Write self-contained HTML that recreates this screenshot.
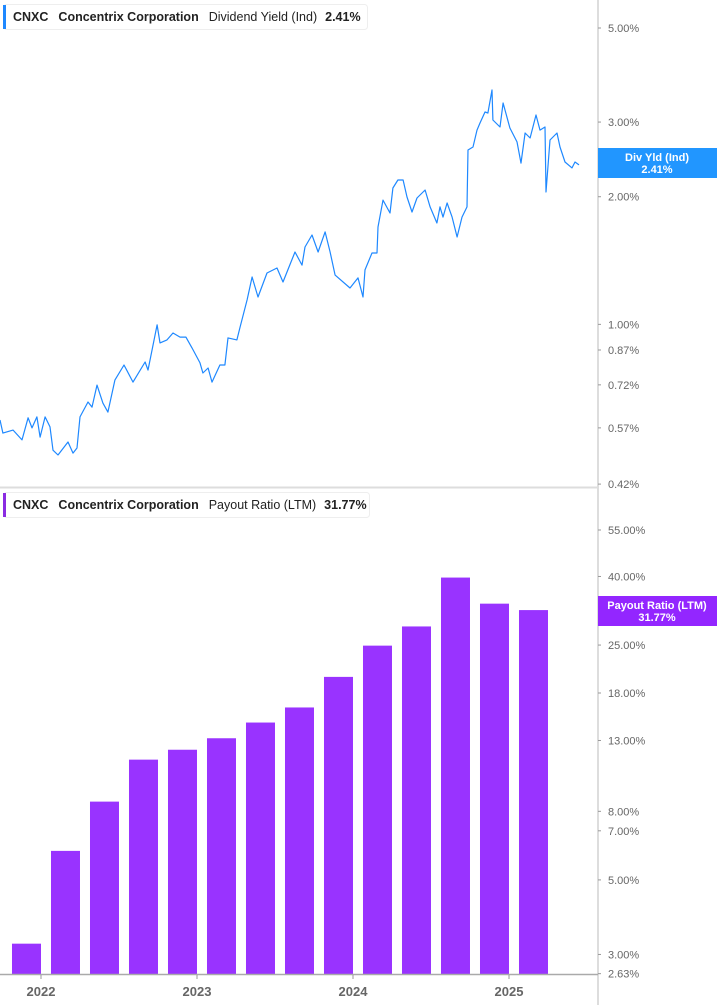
<!DOCTYPE html>
<html><head><meta charset="utf-8"><style>
body{margin:0;background:#fff;font-family:"Liberation Sans",sans-serif;}
svg{display:block}
</style></head><body>
<svg id="c" width="717" height="1005" xmlns="http://www.w3.org/2000/svg"></svg>
<script>
const lineDates=[2021.737,2021.756,2021.821,2021.878,2021.917,2021.942,2021.974,2021.994,2022.026,2022.058,2022.077,2022.109,2022.173,2022.205,2022.231,2022.25,2022.301,2022.327,2022.359,2022.397,2022.429,2022.474,2022.532,2022.590,2022.667,2022.686,2022.744,2022.763,2022.808,2022.846,2022.891,2022.929,2022.968,2023.019,2023.038,2023.071,2023.096,2023.147,2023.179,2023.199,2023.256,2023.276,2023.321,2023.353,2023.391,2023.449,2023.513,2023.551,2023.577,2023.628,2023.673,2023.692,2023.737,2023.776,2023.821,2023.853,2023.885,2023.981,2024.032,2024.064,2024.077,2024.122,2024.154,2024.160,2024.192,2024.237,2024.256,2024.288,2024.321,2024.346,2024.378,2024.410,2024.462,2024.494,2024.538,2024.558,2024.577,2024.603,2024.635,2024.667,2024.699,2024.731,2024.737,2024.769,2024.795,2024.814,2024.846,2024.865,2024.891,2024.897,2024.942,2024.962,2025.006,2025.051,2025.077,2025.103,2025.135,2025.173,2025.199,2025.231,2025.237,2025.263,2025.308,2025.327,2025.359,2025.404,2025.423,2025.449];
const lineValues=[0.595,0.554,0.563,0.534,0.602,0.570,0.605,0.542,0.605,0.573,0.505,0.492,0.528,0.497,0.511,0.605,0.656,0.638,0.719,0.652,0.621,0.739,0.802,0.731,0.815,0.780,0.997,0.904,0.919,0.954,0.933,0.933,0.880,0.811,0.768,0.789,0.731,0.802,0.802,0.929,0.919,0.986,1.142,1.293,1.160,1.322,1.358,1.259,1.329,1.481,1.380,1.522,1.625,1.481,1.652,1.481,1.307,1.218,1.287,1.160,1.344,1.473,1.473,1.697,1.964,1.831,2.097,2.190,2.190,1.997,1.841,1.986,2.074,1.892,1.734,1.892,1.791,1.933,1.791,1.607,1.791,1.892,2.578,2.620,2.872,2.985,3.168,3.151,3.570,3.034,2.921,3.327,2.905,2.693,2.401,2.827,2.751,3.117,2.872,2.921,2.052,2.722,2.827,2.620,2.415,2.339,2.415,2.377];
const barDates=[2021.907,2022.157,2022.407,2022.657,2022.907,2023.157,2023.407,2023.657,2023.907,2024.157,2024.407,2024.657,2024.907,2025.157];
const barValues=[3.23,6.1,8.55,11.4,12.2,13.2,14.7,16.3,20.1,24.9,28.4,39.7,33.2,31.77];
const topTicks=[5,3,2,1,0.87,0.72,0.57,0.42];
const botTicks=[55,40,25,18,13,8,7,5,3,2.63];
const years=[2022,2023,2024,2025];

const svg=document.getElementById('c');const NS='http://www.w3.org/2000/svg';
function mk(t,a,p){const e=document.createElementNS(NS,t);for(const k in a)e.setAttribute(k,a[k]);(p||svg).appendChild(e);return e;}
const AX=598;
const xs=t=>41+(t-2022)*156;
const yTop=v=>28+Math.log10(5/v)*424;
const yBot=v=>530+Math.log10(55/v)*336;

// bars
barValues.forEach((v,i)=>{const cx=xs(barDates[i]);const y=yBot(v);
 const r=mk('rect',{x:cx-14.5,y:y,width:29,height:974-y,fill:'#9933ff'});
 
 });
// line
let d='';lineDates.forEach((t,i)=>{d+=(i?'L':'M')+xs(t).toFixed(1)+','+yTop(lineValues[i]).toFixed(1);});
const p=mk('path',{d:d,fill:'none',stroke:'#1e88ff','stroke-width':1.2,'stroke-linejoin':'round'});



// axes lines
mk('line',{x1:AX,y1:0,x2:AX,y2:1005,stroke:'#bbb','stroke-width':1});
mk('line',{x1:0,y1:487.5,x2:AX,y2:487.5,stroke:'#ddd','stroke-width':2});
mk('line',{x1:0,y1:974.5,x2:AX,y2:974.5,stroke:'#aaa','stroke-width':1.5});
function tick(y,txt,name){mk('line',{x1:AX,y1:y,x2:AX+3,y2:y,stroke:'#999'});
 const t=mk('text',{x:608,y:y+4,'font-size':11,fill:'#666'});t.textContent=txt;
 
 }
topTicks.forEach(v=>tick(yTop(v),v.toFixed(2)+'%','top-y-tick-label'));
botTicks.forEach(v=>tick(yBot(v),v.toFixed(2)+'%','bottom-y-tick-label'));
years.forEach(yr=>{const x=xs(yr);mk('line',{x1:x,y1:975,x2:x,y2:979,stroke:'#999'});
 const t=mk('text',{x:x,y:996,'font-size':13,'font-weight':'bold',fill:'#666','text-anchor':'middle'});t.textContent=yr;
 
 });

// badges
function badge(y,h,col,l1,l2,name){const g=mk('g',{});
 mk('rect',{x:AX,y:y,width:119,height:h,fill:col},g);
 const a=mk('text',{x:657,y:y+13,'font-size':11,'font-weight':'bold',fill:'#fff','text-anchor':'middle'},g);a.textContent=l1;
 const b=mk('text',{x:657,y:y+25,'font-size':11,'font-weight':'bold',fill:'#fff','text-anchor':'middle'},g);b.textContent=l2;}
badge(148,30,'#2196ff','Div Yld (Ind)','2.41%','dividend-yield-badge');
badge(596,30,'#9326ff','Payout Ratio (LTM)','31.77%','payout-ratio-badge');

// legends
function legend(y,w,col,metric,val,name){const g=mk('g',{});
 mk('rect',{x:3.5,y:y+0.5,width:w,height:25,rx:3,fill:'#fff',stroke:'#eee'},g);
 mk('rect',{x:3,y:y+1,width:3,height:24,fill:col},g);
 const t=mk('text',{x:13,y:y+17,'font-size':12.5,fill:'#222'},g);
 t.innerHTML='<tspan font-weight="bold">CNXC</tspan><tspan dx="10" font-weight="bold">Concentrix Corporation</tspan><tspan dx="10">'+metric+'</tspan><tspan dx="8" font-weight="bold">'+val+'</tspan>';}
legend(4,364,'#1e88ff','Dividend Yield (Ind)','2.41%','top-legend');
legend(492,366,'#8a2be2','Payout Ratio (LTM)','31.77%','bottom-legend');
</script>
</body></html>
